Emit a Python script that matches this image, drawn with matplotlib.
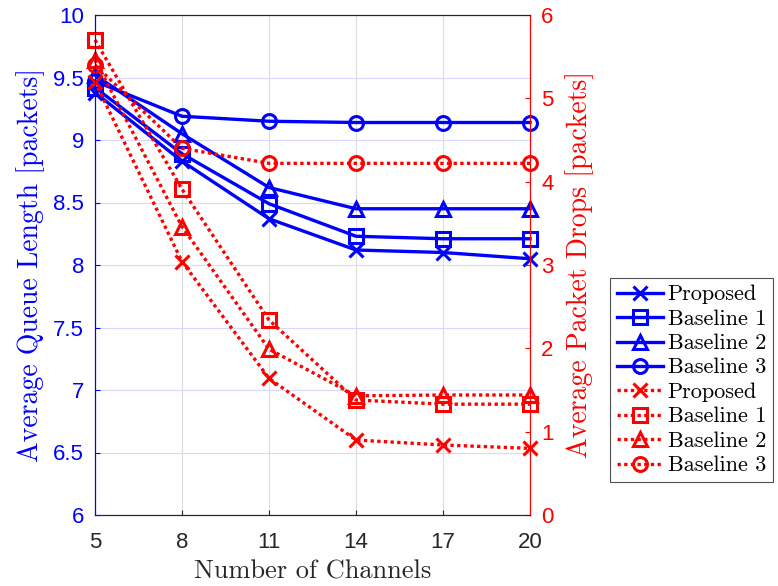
import matplotlib
matplotlib.use("Agg")
import matplotlib.pyplot as plt

channels = [5, 8, 11, 14, 17, 20]
labels = ["Proposed", "Baseline 1", "Baseline 2", "Baseline 3"]
markers = ["x", "s", "^", "o"]

queue_proposed = [9.38, 8.83, 8.37, 8.12, 8.10, 8.05]
queue_b1 = [9.42, 8.89, 8.49, 8.23, 8.21, 8.21]
queue_b2 = [9.52, 9.05, 8.62, 8.45, 8.45, 8.45]
queue_b3 = [9.47, 9.19, 9.15, 9.14, 9.14, 9.14]

drops_proposed = [5.20, 3.04, 1.64, 0.90, 0.84, 0.80]
drops_b1 = [5.70, 3.91, 2.34, 1.38, 1.33, 1.33]
drops_b2 = [5.46, 3.46, 1.99, 1.43, 1.44, 1.44]
drops_b3 = [5.40, 4.40, 4.22, 4.22, 4.22, 4.22]

queue = [queue_proposed, queue_b1, queue_b2, queue_b3]
drops = [drops_proposed, drops_b1, drops_b2, drops_b3]

fig = plt.figure(figsize=(7.78, 5.86), dpi=100)
ax = fig.add_axes([95/778, 1-515/586, 435/778, 500/586])
ax2 = ax.twinx()

serif = "cmr10"
tickfont = "Liberation Sans"

handles = []
for y, lab, m in zip(queue, labels, markers):
    h, = ax.plot(channels, y, color="#0000ff", lw=2.4, marker=m, markersize=10,
                 markerfacecolor="none", markeredgewidth=2.2, label=lab, clip_on=False, zorder=5)
    handles.append(h)
for y, lab, m in zip(drops, labels, markers):
    h, = ax2.plot(channels, y, color="#ff0000", lw=2.4, ls=(0, (1, 1)), marker=m, markersize=10,
                  markerfacecolor="none", markeredgewidth=2.2, label=lab, clip_on=False)
    handles.append(h)

ax.set_xlim(5, 20)
ax.set_ylim(6, 10)
ax2.set_ylim(0, 6)
ax.set_xticks(channels)
ax.set_yticks([6, 6.5, 7, 7.5, 8, 8.5, 9, 9.5, 10])
ax.set_yticklabels(["6", "6.5", "7", "7.5", "8", "8.5", "9", "9.5", "10"])
ax2.set_yticks([0, 1, 2, 3, 4, 5, 6])

ax.grid(True, axis="x", color="#dcdcdc", lw=0.8)
ax.grid(True, axis="y", color="#d8d8ff", lw=0.8)
ax.set_axisbelow(True)

ax.tick_params(axis="both", direction="in", labelsize=16)
ax.tick_params(axis="x", pad=12)
ax.tick_params(axis="y", colors="#0000ff", labelcolor="#0000ff", pad=8)
ax.tick_params(axis="x", colors="#262626", labelcolor="#262626")
ax2.tick_params(axis="y", direction="in", colors="#ff0000", labelcolor="#ff0000", labelsize=16, pad=8)
for t in ax.get_xticklabels() + ax.get_yticklabels() + ax2.get_yticklabels():
    t.set_fontfamily(tickfont)

ax.spines["left"].set_color("#0000ff")
ax2.spines["left"].set_color("#0000ff")
ax2.spines["right"].set_color("#ff0000")
ax.spines["right"].set_color("#ff0000")
for s in ["top", "bottom"]:
    ax.spines[s].set_color("#262626")
    ax2.spines[s].set_color("#262626")

ax.set_xlabel("Number of Channels", fontsize=19, fontfamily=serif, color="#262626", labelpad=5)
ax.set_ylabel("Average Queue Length [packets]", fontsize=20, fontfamily=serif, color="#0000ff", labelpad=6)
ax2.set_ylabel("Average Packet Drops [packets]", fontsize=20, fontfamily=serif, color="#ff0000", labelpad=8)

leg = fig.legend(handles=handles, loc="upper left", bbox_to_anchor=(610/778, 1-278/586),
                 prop={"family": serif, "size": 16}, frameon=True, fancybox=False,
                 edgecolor="#262626", handlelength=2.1, handletextpad=0.2,
                 labelspacing=0.22, borderpad=0.3, borderaxespad=0, handleheight=0.6)
leg.get_frame().set_linewidth(0.8)

fig.savefig("out.png", dpi=100)
